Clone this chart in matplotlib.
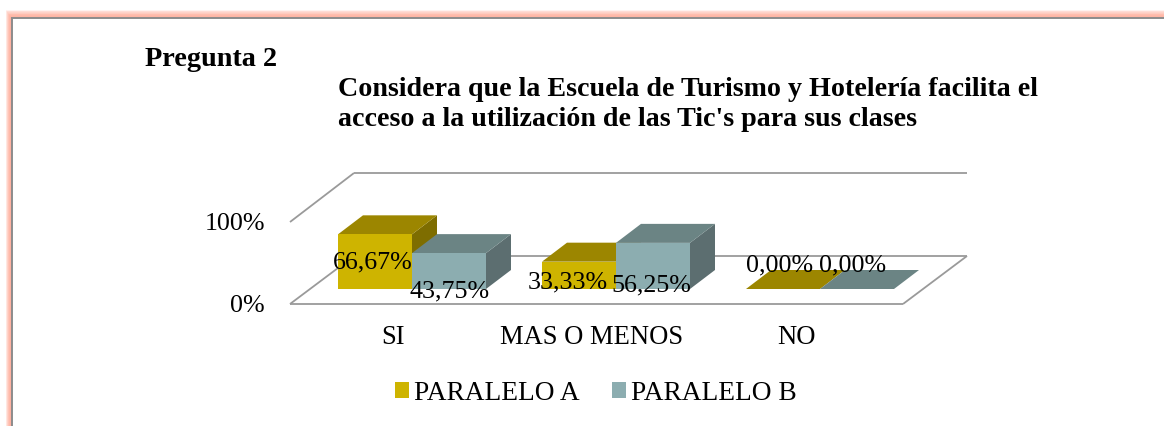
import matplotlib
matplotlib.use("Agg")
import matplotlib.pyplot as plt
from matplotlib.patches import Patch, Polygon, Rectangle

plt.rcParams['font.family'] = ['Liberation Serif', 'DejaVu Serif']

# --- Data ---
categories = ["SI", "MAS O MENOS", "NO"]
paralelo_a = [66.67, 33.33, 0.00]
paralelo_b = [43.75, 56.25, 0.00]
axis_ticks = [0, 100]

# --- Layout (image pixels) ---
W, H = 1164, 426
FLOOR_LEFT, FLOOR_Y = 290, 304
FLOOR_W = 613
BACK_DX, BACK_DY = 64, 48
PX_PER_PCT = 0.82
BAR_Y = 289
BAR_W = 74
BAR_X0 = 338
GROUP_STEP = 204
DEPTH_DX, DEPTH_DY = 25, 19
CATEGORY_X = [393, 592, 796]

# label centre offset from the bar's front-bottom-centre (manually placed in the original)
LABEL_OFFSETS = {
    "A": [(-2, -27), (-11, -7), (-3, -24)],
    "B": [(1, 2), (-2, -4), (-4, -24)],
}

COLORS = {
    "A": dict(front="#CEB400", top="#9C8600", side="#7E6D00"),
    "B": dict(front="#8CADB0", top="#6B8484", side="#5C6E70"),
}
GRID = "#9A9A9A"


def draw_frame(ax):
    # soft salmon glow around the grey border, it runs off right and bottom
    steps = 12
    for i in range(steps, 0, -1):
        f = i / steps
        shade = f ** 2
        col = (1.0, 1.0 - 0.31 * (1 - shade), 1.0 - 0.38 * (1 - shade))
        x0, y0 = 11 - 6 * f, 18 - 9 * f
        ax.add_patch(Rectangle((x0, y0), W + 20, H + 20, fc=col, ec="none", zorder=1))
    ax.add_patch(Rectangle((11.5, 18), W + 20, H + 20, fc="white", ec="#8C8C8C", lw=1.4, zorder=2))


def draw_walls(ax):
    top_y = FLOOR_Y - 100 * PX_PER_PCT
    xl, xr = FLOOR_LEFT, FLOOR_LEFT + FLOOR_W
    lines = [
        ((xl, xr), (FLOOR_Y, FLOOR_Y)),
        ((xr, xr + BACK_DX), (FLOOR_Y, FLOOR_Y - BACK_DY)),
        ((xl, xl + BACK_DX), (FLOOR_Y, FLOOR_Y - BACK_DY)),
        ((xl + BACK_DX, xr + BACK_DX), (FLOOR_Y - BACK_DY, FLOOR_Y - BACK_DY)),
        ((xl, xl + BACK_DX), (top_y, top_y - BACK_DY - 1)),
        ((xl + BACK_DX, xr + BACK_DX), (top_y - BACK_DY - 1, top_y - BACK_DY - 1)),
    ]
    for xs, ys in lines:
        ax.plot(xs, ys, color=GRID, lw=1.3, zorder=3, solid_capstyle="butt")


def draw_bar(ax, x, value, colors):
    top = BAR_Y - value * PX_PER_PCT
    dx, dy = DEPTH_DX, DEPTH_DY
    ax.add_patch(Polygon([(x + BAR_W, BAR_Y), (x + BAR_W + dx, BAR_Y - dy), (x + BAR_W + dx, top - dy), (x + BAR_W, top)],
                         fc=colors["side"], ec="none", zorder=4))
    ax.add_patch(Polygon([(x, top), (x + dx, top - dy), (x + BAR_W + dx, top - dy), (x + BAR_W, top)],
                         fc=colors["top"], ec="none", zorder=4))
    if value > 0:
        ax.add_patch(Rectangle((x, top), BAR_W, value * PX_PER_PCT, fc=colors["front"], ec="none", zorder=4))


def main():
    fig = plt.figure(figsize=(W / 100, H / 100), dpi=100)
    ax = fig.add_axes([0, 0, 1, 1])
    ax.set_xlim(0, W)
    ax.set_ylim(H, 0)
    ax.axis("off")

    draw_frame(ax)
    draw_walls(ax)

    # bars go left to right so each one covers the side of the previous
    for i in range(len(categories)):
        x = BAR_X0 + i * GROUP_STEP
        draw_bar(ax, x, paralelo_a[i], COLORS["A"])
        draw_bar(ax, x + BAR_W, paralelo_b[i], COLORS["B"])

    for i in range(len(categories)):
        x = BAR_X0 + i * GROUP_STEP
        for j, (key, values) in enumerate((("A", paralelo_a), ("B", paralelo_b))):
            ox, oy = LABEL_OFFSETS[key][i]
            text = f"{values[i]:.2f}%".replace(".", ",")
            ax.text(x + j * BAR_W + BAR_W / 2 + ox, BAR_Y + oy, text, fontsize=18.7, ha="center", va="center", zorder=6)
        ax.text(CATEGORY_X[i], 337, categories[i], fontsize=19.1, ha="center", va="center", zorder=6)

    for t in axis_ticks:
        ax.text(265, FLOOR_Y - t * PX_PER_PCT + 2, f"{t}%", fontsize=18.7, ha="right", va="center", zorder=6)

    ax.text(145, 59, "Pregunta 2", fontsize=20.3, fontweight="bold", ha="left", va="center", zorder=6)
    ax.text(338, 90, "Considera que la Escuela de Turismo y Hotelería facilita el", fontsize=20.2,
            fontweight="bold", ha="left", va="center", zorder=6)
    ax.text(338, 120, "acceso a la utilización de las Tic's para sus clases", fontsize=20.2,
            fontweight="bold", ha="left", va="center", zorder=6)

    handles = [Patch(fc=COLORS["A"]["front"], label="PARALELO A"), Patch(fc=COLORS["B"]["front"], label="PARALELO B")]
    ax.legend(handles=handles, ncol=2, loc="center", bbox_to_anchor=(596, 393), bbox_transform=ax.transData,
              frameon=False, fontsize=19.7, handlelength=0.51, handleheight=0.51, handletextpad=0.18,
              columnspacing=1.2, borderpad=0, borderaxespad=0).set_zorder(6)

    fig.savefig("out.png", dpi=100)


if __name__ == "__main__":
    main()
